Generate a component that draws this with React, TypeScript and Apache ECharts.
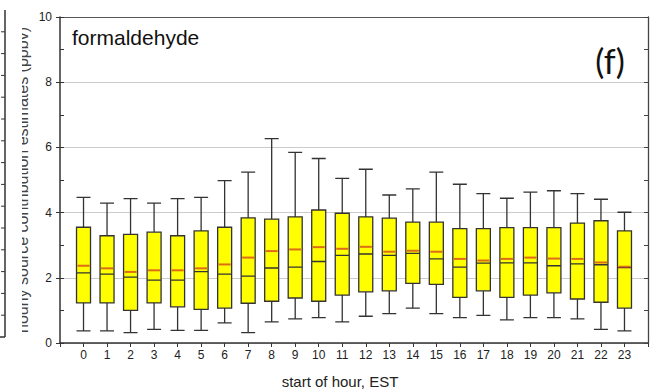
import React, { useEffect, useRef } from "react";
import * as echarts from "echarts";

const hours = [0, 1, 2, 3, 4, 5, 6, 7, 8, 9, 10, 11, 12, 13, 14, 15, 16, 17, 18, 19, 20, 21, 22, 23];
const whiskerLow = [0.37, 0.37, 0.32, 0.42, 0.39, 0.39, 0.62, 0.32, 0.65, 0.74, 0.78, 0.65, 0.82, 0.9, 1.07, 0.9, 0.78, 0.85, 0.71, 0.78, 0.78, 0.74, 0.42, 0.37];
const q1 = [1.23, 1.23, 1.0, 1.23, 1.11, 1.03, 1.07, 1.22, 1.28, 1.38, 1.28, 1.47, 1.57, 1.6, 1.83, 1.8, 1.4, 1.6, 1.4, 1.47, 1.54, 1.35, 1.25, 1.07];
const median = [2.15, 2.11, 2.02, 1.93, 1.93, 2.19, 2.11, 2.05, 2.3, 2.33, 2.5, 2.69, 2.73, 2.69, 2.75, 2.58, 2.33, 2.45, 2.46, 2.46, 2.37, 2.43, 2.4, 2.31];
const q3 = [3.55, 3.29, 3.33, 3.4, 3.29, 3.44, 3.55, 3.84, 3.8, 3.87, 4.08, 3.98, 3.87, 3.83, 3.71, 3.71, 3.51, 3.51, 3.54, 3.54, 3.54, 3.68, 3.75, 3.44];
const whiskerHigh = [4.47, 4.29, 4.43, 4.29, 4.43, 4.47, 4.98, 5.24, 6.27, 5.85, 5.66, 5.05, 5.33, 4.54, 4.73, 5.24, 4.87, 4.58, 4.44, 4.63, 4.67, 4.58, 4.41, 4.01];
const mean = [2.37, 2.29, 2.18, 2.23, 2.23, 2.29, 2.41, 2.62, 2.82, 2.87, 2.94, 2.89, 2.95, 2.8, 2.83, 2.8, 2.58, 2.53, 2.58, 2.62, 2.59, 2.58, 2.47, 2.34];
const yTicks = [0, 2, 4, 6, 8, 10];

const FONT = "'Liberation Sans', Arial, sans-serif";

export default function App() {
  const ref = useRef<HTMLDivElement>(null);
  useEffect(() => {
    if (!ref.current) return;
    const chart = echarts.init(ref.current, null, { renderer: "svg" });
    const boxData = hours.map((h, i) => [h, whiskerLow[i], q1[i], median[i], q3[i], whiskerHigh[i]]);
    const meanData = hours.map((h, i) => [h, mean[i]]);

    // decorative edge of the neighbouring panel (cut off at the left border)
    const edgeTop = 10;
    const edgeBottom = 337;
    const edgeX = 5;
    const edgeSteps = 15;
    const edgeElements: any[] = [
      {
        type: "line",
        shape: { x1: edgeX, y1: edgeTop, x2: edgeX, y2: edgeBottom },
        style: { stroke: "#333", lineWidth: 1.5 },
        z: 12,
      },
      {
        type: "line",
        shape: { x1: 0, y1: edgeBottom, x2: edgeX, y2: edgeBottom },
        style: { stroke: "#333", lineWidth: 1.5 },
        z: 12,
      },
    ];
    for (let k = 1; k < edgeSteps; k++) {
      const y = edgeBottom - ((edgeBottom - edgeTop) * k) / edgeSteps;
      edgeElements.push({
        type: "line",
        shape: { x1: 1, y1: y, x2: edgeX, y2: y },
        style: { stroke: "#333", lineWidth: 1 },
        z: 12,
      });
    }

    chart.setOption({
      animation: false,
      backgroundColor: "#ffffff",
      grid: [{ left: 60, right: 4, top: 17, bottom: 48 }],
      xAxis: [
        {
          type: "value",
          position: "bottom",
          min: -1,
          max: 24,
          interval: 1,
          axisLine: { show: true, onZero: false, lineStyle: { color: "#333", width: 1.5 } },
          axisTick: { show: true, length: 4, lineStyle: { color: "#333" } },
          axisLabel: {
            color: "#222",
            fontFamily: FONT,
            fontSize: 12,
            margin: 6,
            formatter: (v: number) => (hours.indexOf(v) >= 0 ? String(v) : ""),
          },
          splitLine: { show: false },
        },
        {
          type: "value",
          position: "top",
          min: -1,
          max: 24,
          axisLine: { show: true, onZero: false, lineStyle: { color: "#555", width: 1.2 } },
          axisTick: { show: false },
          axisLabel: { show: false },
          splitLine: { show: false },
        },
      ],
      yAxis: [
        {
          type: "value",
          position: "left",
          min: 0,
          max: 10,
          interval: 2,
          axisLine: { show: true, onZero: false, lineStyle: { color: "#333", width: 1.5 } },
          axisTick: { show: true, length: 4, lineStyle: { color: "#333" } },
          axisLabel: {
            color: "#222",
            fontFamily: FONT,
            fontSize: 12,
            margin: 8,
            formatter: (v: number) => (yTicks.indexOf(v) >= 0 ? String(v) : ""),
          },
          splitLine: { show: true, lineStyle: { color: "#cccccc", width: 1.2 } },
        },
        {
          type: "value",
          position: "left",
          min: 0,
          max: 10,
          interval: 1,
          axisLine: { show: false, onZero: false },
          axisTick: { show: true, inside: true, length: 4, lineStyle: { color: "#333" } },
          axisLabel: { show: false },
          splitLine: { show: false },
        },
        {
          type: "value",
          position: "right",
          min: 0,
          max: 10,
          interval: 1,
          axisLine: { show: true, onZero: false, lineStyle: { color: "#444", width: 1.3 } },
          axisTick: { show: true, inside: true, length: 4, lineStyle: { color: "#444" } },
          axisLabel: { show: false },
          splitLine: { show: false },
        },
      ],
      series: [
        {
          type: "boxplot",
          xAxisIndex: 0,
          yAxisIndex: 0,
          data: boxData,
          boxWidth: [14, 14],
          itemStyle: { color: "#ffff00", borderColor: "#333333", borderWidth: 1.3 },
          z: 3,
        },
        {
          type: "scatter",
          xAxisIndex: 0,
          yAxisIndex: 0,
          data: meanData,
          symbol: "rect",
          symbolSize: [12, 2],
          itemStyle: { color: "#d4471c" },
          z: 5,
        },
      ],
      graphic: [
        {
          type: "text",
          x: 22.5,
          y: 180,
          rotation: Math.PI / 2,
          z: 5,
          style: {
            text: "hourly source contribution estimates (ppbv)",
            font: "16px 'Liberation Sans', Arial, sans-serif",
            fill: "#444",
            align: "center",
            verticalAlign: "middle",
          },
        },
        {
          type: "rect",
          z: 10,
          shape: { x: 7, y: 0, width: 15, height: 391 },
          style: { fill: "#ffffff" },
        },
        ...edgeElements,
        {
          type: "text",
          x: 72,
          y: 37,
          z: 10,
          style: {
            text: "formaldehyde",
            font: "21px 'Liberation Sans', Arial, sans-serif",
            fill: "#111",
            align: "left",
            verticalAlign: "middle",
          },
        },
        {
          type: "text",
          x: 610,
          y: 60,
          z: 10,
          style: {
            text: "(f)",
            font: "34px Lato, 'Open Sans', sans-serif",
            fill: "#111",
            align: "center",
            verticalAlign: "middle",
          },
        },
        {
          type: "text",
          x: 340,
          y: 381,
          z: 10,
          style: {
            text: "start of hour, EST",
            font: "15px 'Liberation Sans', Arial, sans-serif",
            fill: "#222",
            align: "center",
            verticalAlign: "middle",
          },
        },
      ],
    });
    return () => chart.dispose();
  }, []);
  return (
    <div
      ref={ref}
      style={{ position: "fixed", left: 0, top: 0, width: 652, height: 391 }}
    />
  );
}
